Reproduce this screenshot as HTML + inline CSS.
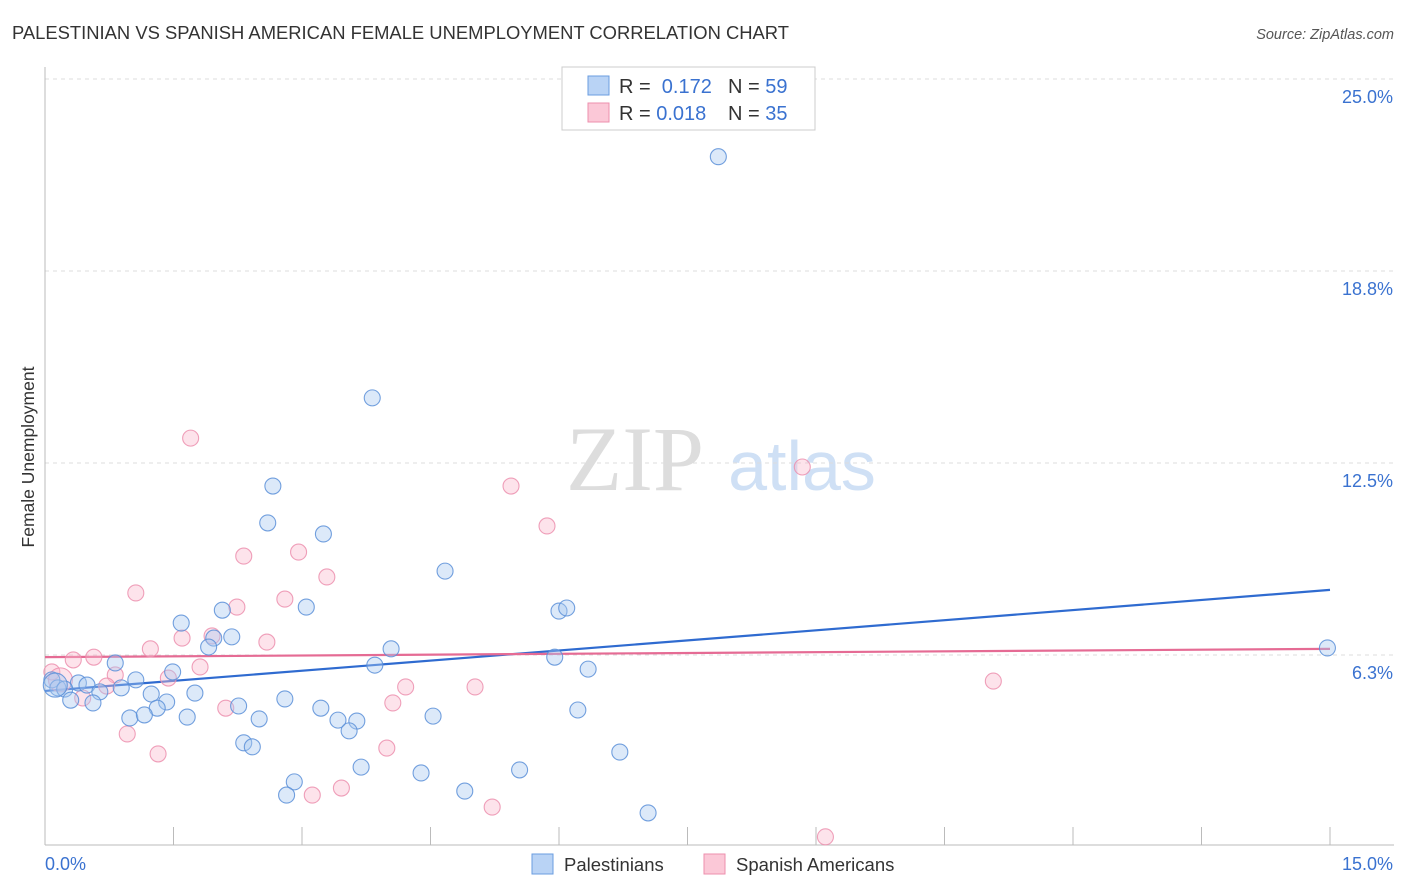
<!DOCTYPE html>
<html><head><meta charset="utf-8"><style>
body{margin:0;background:#fff;font-family:"Liberation Sans",sans-serif;}
svg{display:block}
</style></head><body>
<svg id="chart" width="1406" height="892" xmlns="http://www.w3.org/2000/svg">
<text x="12" y="39" font-size="18.4" fill="#333">PALESTINIAN VS SPANISH AMERICAN FEMALE UNEMPLOYMENT CORRELATION CHART</text>
<text x="1394" y="39" font-size="14.5" fill="#555" font-style="italic" text-anchor="end">Source: ZipAtlas.com</text>
<text x="34" y="457" font-size="17.5" fill="#333" text-anchor="middle" transform="rotate(-90 34 457)">Female Unemployment</text>
<g><text x="635" y="490" font-size="92" font-family="Liberation Serif,serif" fill="#ddd" text-anchor="middle">ZIP</text><text x="802" y="490" font-size="70" fill="#cfe0f5" text-anchor="middle">atlas</text></g>
<g id="grid"></g><g id="axes"></g><g id="lines"></g><g id="pts"></g>
<g>
<rect x="562" y="67" width="253" height="63" fill="#fff" stroke="#ccc"/>
<rect x="588" y="76" width="21" height="19" fill="#b9d3f5" stroke="#6a9de0"/>
<rect x="588" y="103" width="21" height="19" fill="#fbc8d7" stroke="#ee8fae"/>
<text x="619" y="93" font-size="20" fill="#333">R = <tspan fill="#3a72d0">&#160;0.172</tspan></text>
<text x="728" y="93" font-size="20" fill="#333">N = <tspan fill="#3a72d0">59</tspan></text>
<text x="619" y="120" font-size="20" fill="#333">R = <tspan fill="#3a72d0">0.018</tspan></text>
<text x="728" y="120" font-size="20" fill="#333">N = <tspan fill="#3a72d0">35</tspan></text>
</g>
<g>
<rect x="532" y="854" width="21" height="20" fill="#b9d3f5" stroke="#6a9de0"/>
<text x="564" y="871" font-size="18.5" fill="#333">Palestinians</text>
<rect x="704" y="854" width="21" height="20" fill="#fbc8d7" stroke="#ee8fae"/>
<text x="736" y="871" font-size="18.5" fill="#333">Spanish Americans</text>
</g>
</svg>
<script>
const yTicks=[6.3,12.5,18.8,25.0];
const yTickVals=[6.25,12.5,18.75,25];
const blueX=[7.86,3.82,2.66,2.60,3.25,4.67,3.05,2.07,6.00,6.09,1.59,2.18,1.97,1.91,4.04,14.97,5.95,0.82,3.85,6.34,1.49,1.06,0.39,0.49,0.08,0.15,0.23,0.89,0.64,1.24,1.75,0.30,0.56,1.42,1.31,2.26,2.80,3.22,6.22,0.99,1.16,1.66,2.50,3.42,3.64,4.53,3.55,2.32,2.42,6.71,3.69,5.54,4.39,2.91,2.82,4.90,7.04,0.12];
const blueY=[22.47,14.62,11.75,10.55,10.19,8.98,7.81,7.71,7.68,7.78,7.29,6.84,6.80,6.51,6.45,6.48,6.18,5.99,5.92,5.79,5.70,5.44,5.34,5.27,5.44,5.18,5.14,5.18,5.05,4.98,5.01,4.78,4.69,4.72,4.52,4.59,4.82,4.52,4.46,4.20,4.30,4.23,4.17,4.13,4.10,4.26,3.78,3.39,3.26,3.09,2.60,2.51,2.41,2.12,1.69,1.82,1.11,5.27];
const pinkX=[1.70,8.84,5.44,5.86,2.32,2.96,3.29,1.06,2.80,2.24,1.60,1.95,2.59,1.23,0.57,0.33,1.81,0.82,1.44,11.07,0.72,4.21,5.02,0.44,2.11,4.06,0.96,1.32,3.99,3.46,3.12,5.22,9.11,0.08,0.18];
const pinkY=[13.31,12.37,11.75,10.45,9.47,9.60,8.79,8.27,8.07,7.81,6.80,6.87,6.67,6.45,6.18,6.09,5.86,5.60,5.50,5.40,5.24,5.21,5.21,4.85,4.52,4.69,3.68,3.03,3.22,1.92,1.69,1.30,0.33,5.70,5.44];
const blueTrend=[5.08,8.37];
const pinkTrend=[6.18,6.45];
const NS="http://www.w3.org/2000/svg";
const xs=v=>45+v/15*1285;
const ys=v=>847-v/6.25*192;
function mk(t,a,p){const e=document.createElementNS(NS,t);for(const k in a)e.setAttribute(k,a[k]);document.getElementById(p).appendChild(e);return e;}
yTickVals.forEach((v,i)=>{
 const l=mk('line',{x1:45,x2:1394,y1:ys(v),y2:ys(v),stroke:'#ddd','stroke-dasharray':'4,4'},'grid');
 
 
 const t=mk('text',{x:1393,y:ys(v)+24,'font-size':18,fill:'#3a72d0','text-anchor':'end'},'grid');
 t.textContent=yTicks[i].toFixed(1)+'%';
 
 
});
mk('line',{x1:45,x2:45,y1:67,y2:845,stroke:'#bbb'},'axes');
mk('line',{x1:45,x2:1394,y1:845,y2:845,stroke:'#bbb'},'axes');
for(let i=0;i<=10;i++){const x=xs(i*1.5);const l=mk('line',{x1:x,x2:x,y1:827,y2:845,stroke:'#bbb'},'axes');
 
 }
let t=mk('text',{x:45,y:870,'font-size':18,fill:'#3a72d0'},'axes');t.textContent='0.0%';


t=mk('text',{x:1393,y:870,'font-size':18,fill:'#3a72d0','text-anchor':'end'},'axes');t.textContent='15.0%';


function pts(X,Y,fill,stroke,name){X.forEach((x,i)=>{const big=(i===X.length-1);
 const c=mk('circle',{cx:xs(x),cy:ys(Y[i]),r:big?12:8,fill:fill,'fill-opacity':0.4,stroke:stroke,'stroke-width':1.1,'stroke-opacity':0.85},'pts');
 
 });}
pts(pinkX,pinkY,'#f9b9cc','#ec8fae','spanish-american-point');
pts(blueX,blueY,'#a8c8f0','#5b8fd8','palestinian-point');
let bl=mk('line',{x1:xs(0),y1:ys(blueTrend[0]),x2:xs(15),y2:ys(blueTrend[1]),stroke:'#2f6bd0','stroke-width':2.2},'lines');


let pl=mk('line',{x1:xs(0),y1:ys(pinkTrend[0]),x2:xs(15),y2:ys(pinkTrend[1]),stroke:'#e56b94','stroke-width':2.2},'lines');


</script>
</body></html>
